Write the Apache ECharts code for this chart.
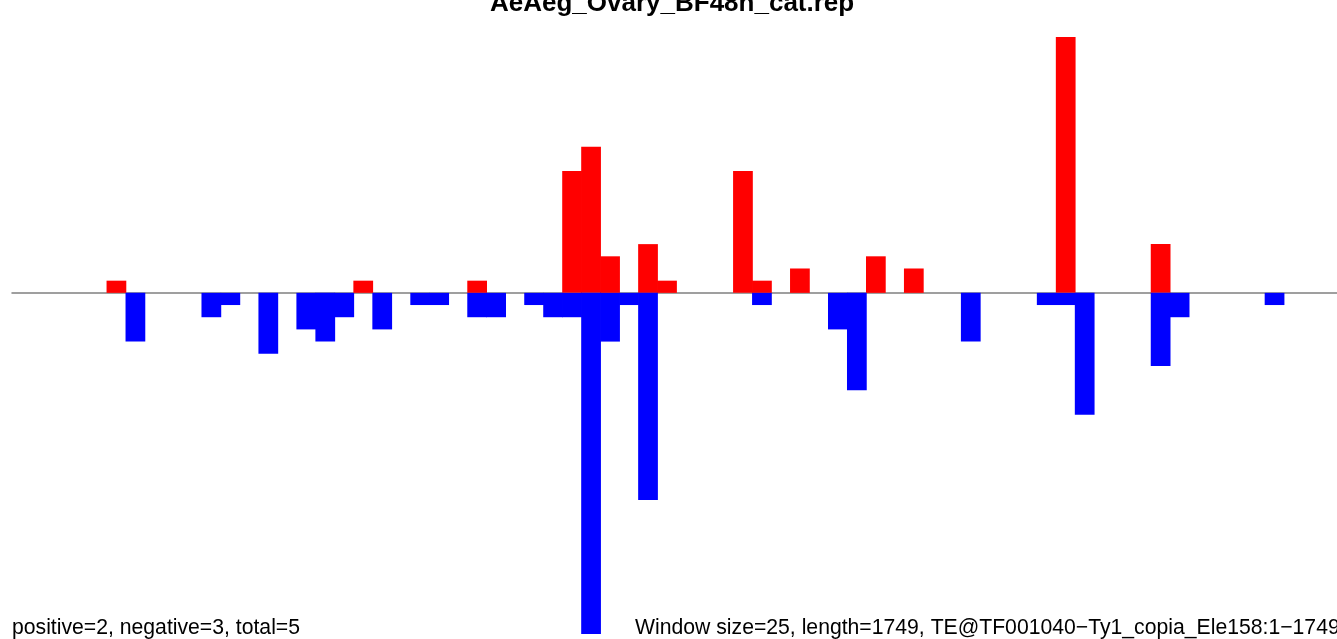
<!DOCTYPE html>
<html>
<head>
<meta charset="utf-8">
<script src="https://cdn.jsdelivr.net/npm/echarts@6/dist/echarts.min.js"></script>
<style>
    html, body { margin: 0; padding: 0; background: #fff; }
    #main { width: 1337px; height: 639px; }
</style>
</head>
<body>
<div id="main"></div>
<script>
// 70 windows of 25 bp over 1749 bp
var bins = []
for (var i = 0; i < 70; i++) bins.push(i)

// counts per window, positive strand (red) and negative strand (blue)
var positive = [
    0, 0, 0, 0, 0, 1, 0, 0, 0, 0,
    0, 0, 0, 0, 0, 0, 0, 0, 1, 0,
    0, 0, 0, 0, 1, 0, 0, 0, 0, 10,
    12, 3, 0, 4, 1, 0, 0, 0, 10, 1,
    0, 2, 0, 0, 0, 3, 0, 2, 0, 0,
    0, 0, 0, 0, 0, 21, 0, 0, 0, 0,
    4, 0, 0, 0, 0, 0, 0, 0, 0, 0
]
var negative = [
    0, 0, 0, 0, 0, 0, -4, 0, 0, 0,
    -2, -1, 0, -5, 0, -3, -4, -2, 0, -3,
    0, -1, -1, 0, -2, -2, 0, -1, -2, -2,
    -28, -4, -1, -17, 0, 0, 0, 0, 0, -1,
    0, 0, 0, -3, -8, 0, 0, 0, 0, 0,
    -4, 0, 0, 0, -1, -1, -10, 0, 0, 0,
    -6, -2, 0, 0, 0, 0, -1, 0, 0, 0
]

var titleText = 'AeAeg_Ovary_BF48h_cat.rep'
var leftNote = 'positive=2, negative=3, total=5'
var rightNote = 'Window size=25, length=1749, TE@TF001040\u2212Ty1_copia_Ele158:1\u22121749'

// empty windows draw nothing
function noZero(arr) {
    return arr.map(function (v) { return v === 0 ? '-' : v })
}

var chart = echarts.init(document.getElementById('main'))
var option = {
    animation: false,
    backgroundColor: '#fff',
    title: {
        text: titleText,
        left: 485,
        top: -14,
        textStyle: {
            fontFamily: 'Liberation Sans',
            fontWeight: 'bold',
            fontSize: 26,
            color: '#000'
        }
    },
    graphic: [
        {
            type: 'text',
            left: 12,
            top: 618,
            style: {
                text: leftNote,
                font: '21.2px "Liberation Sans"',
                fill: '#000'
            }
        },
        {
            type: 'text',
            left: 635,
            top: 618,
            style: {
                text: rightNote,
                font: '21.2px "Liberation Sans"',
                fill: '#000'
            }
        }
    ],
    grid: {
        left: 12,
        top: 37,
        width: 1329,
        height: 597,
        outerBoundsMode: 'none'
    },
    xAxis: {
        type: 'category',
        data: bins,
        axisLine: {
            show: true,
            onZero: true,
            lineStyle: { color: '#808080', width: 1.5 }
        },
        axisTick: { show: false },
        axisLabel: { show: false },
        splitLine: { show: false }
    },
    yAxis: {
        type: 'value',
        min: -28,
        max: 21,
        axisLine: { show: false },
        axisTick: { show: false },
        axisLabel: { show: false },
        splitLine: { show: false }
    },
    series: [
        {
            name: 'positive',
            type: 'bar',
            data: noZero(positive),
            barWidth: '104%',
            barGap: '-100%',
            itemStyle: { color: '#ff0000' }
        },
        {
            name: 'negative',
            type: 'bar',
            data: noZero(negative),
            barWidth: '104%',
            barGap: '-100%',
            itemStyle: { color: '#0000ff' }
        }
    ]
}
chart.setOption(option)
</script>
</body>
</html>
